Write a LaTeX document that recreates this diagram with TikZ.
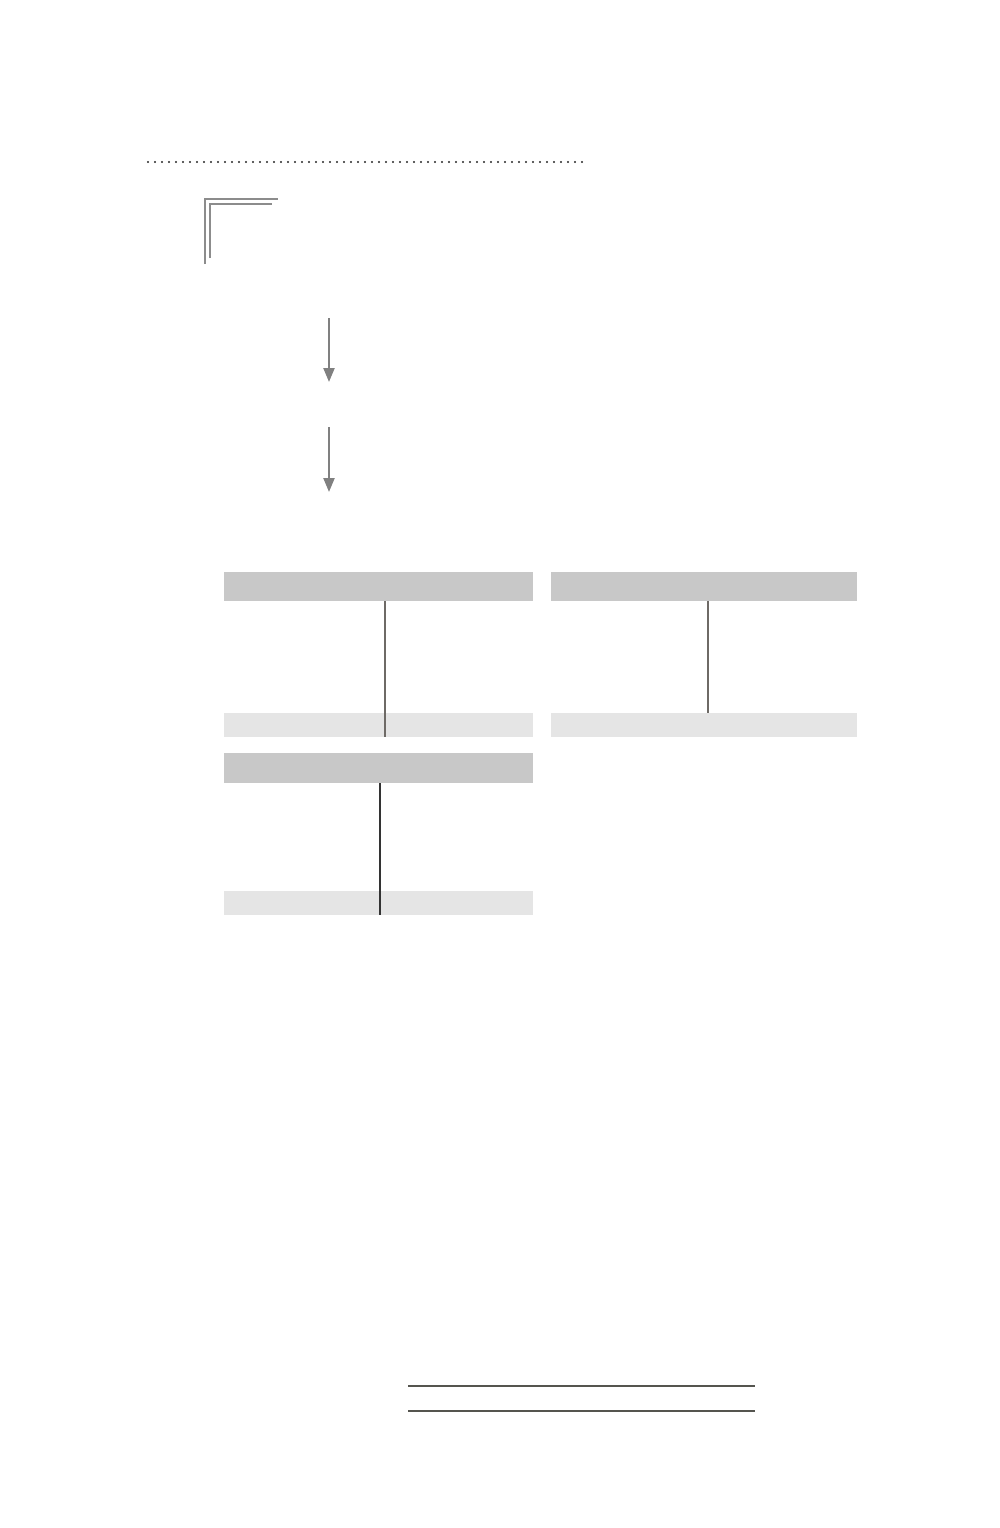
\documentclass[tikz,border=0pt]{standalone}
\usetikzlibrary{arrows.meta}
\definecolor{hdrgray}{HTML}{C8C8C8}
\definecolor{ftrgray}{HTML}{E5E5E5}
\definecolor{brgray}{HTML}{8C8C8C}
\definecolor{arrgray}{HTML}{808080}
\definecolor{divgray}{HTML}{6E6A66}
\definecolor{ruledark}{HTML}{55554F}
\tikzset{
  hdr/.style={fill=hdrgray, draw=none, inner sep=0, anchor=north west},
  ftr/.style={fill=ftrgray, draw=none, inner sep=0, anchor=north west},
  divline/.style={draw=divgray, line width=1.4pt},
  bracket/.style={draw=brgray, line width=1.6pt},
  flowarrow/.style={draw=arrgray, line width=2.2pt, -{Triangle[length=14pt,width=11pt]}},
  rule/.style={draw=ruledark, line width=1.5pt},
}
\begin{document}
\begin{tikzpicture}[x=1pt,y=-1pt]
\useasboundingbox (0,0) rectangle (1000,1528);
% dotted rule
\foreach \i in {0,...,62} {
  \fill[black!85] (148+\i*7,162) circle (1.1);
}
% double corner bracket
\draw[bracket] (205,264) -- (205,199) -- (278,199);
\draw[bracket] (210,258) -- (210,204) -- (272,204);
% arrows
\coordinate (a1s) at (329,318);
\coordinate (a1e) at (329,382);
\coordinate (a2s) at (329,427);
\coordinate (a2e) at (329,492);
\draw[flowarrow] (a1s) -- (a1e);
\draw[flowarrow] (a2s) -- (a2e);
% panel 1
\node[hdr, minimum width=309pt, minimum height=29pt] (p1h) at (224,572) {};
\node[ftr, minimum width=309pt, minimum height=24pt] (p1f) at (224,713) {};
\draw[divline] (385,601) -- (385,737);
% panel 2
\node[hdr, minimum width=306pt, minimum height=29pt] (p2h) at (551,572) {};
\node[ftr, minimum width=306pt, minimum height=24pt] (p2f) at (551,713) {};
\draw[divline] (708,601) -- (708,713);
% panel 3
\node[hdr, minimum width=309pt, minimum height=30pt] (p3h) at (224,753) {};
\node[ftr, minimum width=309pt, minimum height=24pt] (p3f) at (224,891) {};
\draw[divline, draw=black!80] (380,783) -- (380,915);
% bottom rules
\coordinate (r1a) at (408,1386);
\coordinate (r1b) at (755,1386);
\coordinate (r2a) at (408,1411);
\coordinate (r2b) at (755,1411);
\draw[rule] (r1a) -- (r1b);
\draw[rule] (r2a) -- (r2b);
\end{tikzpicture}
\end{document}
